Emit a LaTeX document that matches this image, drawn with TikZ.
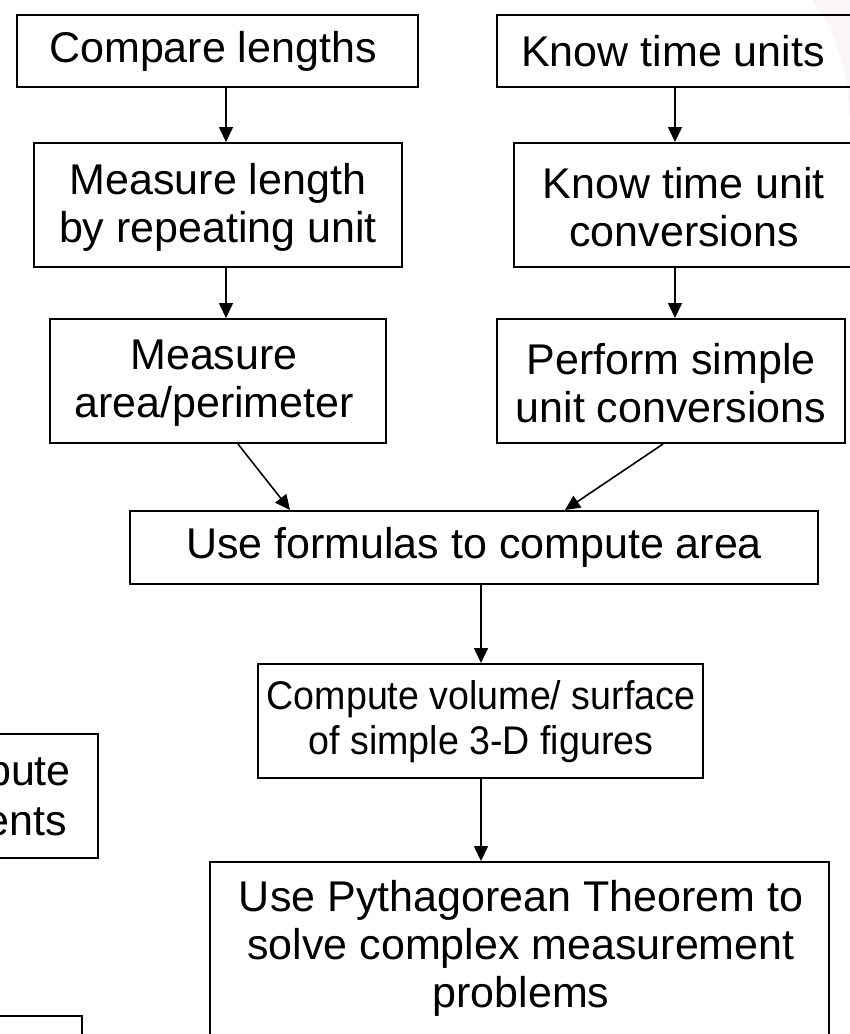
\documentclass[tikz,border=0pt]{standalone}
\usepackage{fontspec}
\setmainfont{Liberation Sans}
\newfontfamily\narrowfont[FakeStretch=0.94]{Liberation Sans}
\usetikzlibrary{arrows.meta}
\tikzset{
  box/.style={draw=black, line width=2pt, inner sep=0pt, fill=none},
  txt/.style={inner sep=0pt, align=center, font=\fontsize{43}{48}\selectfont},
  narrowtxt/.style={inner sep=0pt, align=center, font=\narrowfont\fontsize{40}{45}\selectfont},
  arr/.style={line width=1.6pt, -{Triangle[length=15pt,width=14pt]}},
}
\begin{document}
\begin{tikzpicture}[x=1pt,y=-1pt]
\useasboundingbox (0,0) rectangle (850,1034);
\clip (0,0) rectangle (850,1034);
\fill[white] (0,0) rectangle (850,1034);
% faint watermark at top right
\fill[red!30!gray, opacity=0.05] (812,0) .. controls (838,35) and (850,70) .. (850,140) -- (850,0) -- cycle;
% boxes
\node[box, minimum width=401pt, minimum height=72pt] (b1) at (217.5,51) {};
\node[txt] (t1) at (213,51) {Compare lengths};
\node[box, minimum width=356pt, minimum height=72pt] (b2) at (675,51) {};
\node[txt] (t2) at (673,51) {Know time units};
\node[box, minimum width=368pt, minimum height=124pt] (b3) at (218,205) {};
\node[txt] (t3) at (218,207) {Measure length\\by repeating unit};
\node[box, minimum width=346pt, minimum height=124pt] (b4) at (687,205) {};
\node[txt] (t4) at (684,207) {Know time unit\\conversions};
\node[box, minimum width=336pt, minimum height=124pt] (b5) at (218,381) {};
\node[txt] (t5) at (214,383) {Measure\\area/perimeter};
\node[box, minimum width=348pt, minimum height=124pt] (b6) at (671,381) {};
\node[txt] (t6) at (671,383) {Perform simple\\unit conversions};
\node[box, minimum width=688pt, minimum height=73pt] (b7) at (474,547.5) {};
\node[txt] (t7) at (474,547) {Use formulas to compute area};
\node[box, minimum width=445pt, minimum height=114pt] (b8) at (480.5,721) {};
\node[narrowtxt] (t8) at (481,722) {Compute volume/ surface\\of simple 3-D figures};
\node[box, minimum width=619pt, minimum height=240pt] (b9) at (519.5,982) {};
\node[txt] (t9) at (521,948) {Use Pythagorean Theorem to\\solve complex measurement\\problems};
% partial boxes on the left
\node[box, minimum width=148pt, minimum height=124pt] (b10) at (24,796) {};
\node[txt, anchor=east] (t10a) at (71,776) {pute};
\node[txt, anchor=east] (t10b) at (67,822) {ents};
\node[box, minimum width=132pt, minimum height=80pt] (b11) at (16,1056) {};
% arrows
\draw[arr] (b1.south -| 226,0) -- (b3.north -| 226,0);
\draw[arr] (b2.south) -- (b2.south |- b4.north);
\draw[arr] (b3.south -| 226,0) -- (b5.north -| 226,0);
\draw[arr] (b2.south |- b4.south) -- (b2.south |- b6.north);
\draw[arr] (b5.south -| 238,0) -- (b7.north -| 290,0);
\draw[arr] (b6.south -| 663,0) -- (b7.north -| 565,0);
\draw[arr] (b7.south -| 481,0) -- (b8.north -| 481,0);
\draw[arr] (b8.south -| 481,0) -- (b9.north -| 481,0);
\end{tikzpicture}
\end{document}
